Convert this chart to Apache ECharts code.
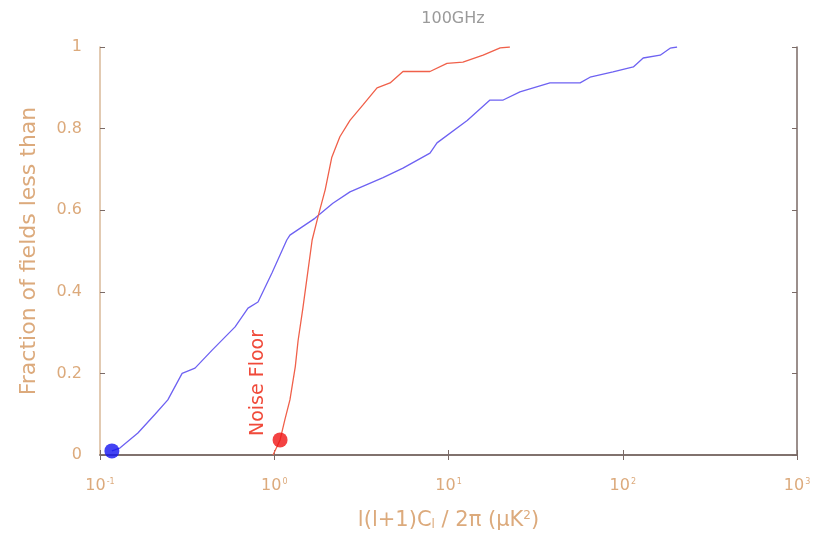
<!DOCTYPE html>
<html>
<head>
<meta charset="utf-8">
<script src="https://cdn.jsdelivr.net/npm/echarts@6/dist/echarts.min.js"></script>
<style>html,body{margin:0;padding:0;background:#fff}#c{width:831px;height:539px}</style>
</head>
<body>
<div id="c"></div>
<script>
// ---- data ----
const titleText = '100GHz';
const xTickExponents = ['-1', '0', '1', '2', '3'];
const yTicks = [0, 0.2, 0.4, 0.6, 0.8, 1];

const blueX = [0.117, 0.130, 0.165, 0.207, 0.245, 0.296, 0.351, 0.440, 0.596, 0.707, 0.807, 0.970, 1.18, 1.23, 1.71, 2.17, 2.72, 4.21, 5.48, 7.83, 8.59, 12.8, 17.3, 20.6, 25.7, 38.2, 56.9, 64.9, 87.9, 115, 131, 164, 187, 205];
const blueY = [0.01, 0.017, 0.054, 0.10, 0.135, 0.20, 0.213, 0.257, 0.314, 0.36, 0.375, 0.446, 0.527, 0.539, 0.58, 0.617, 0.645, 0.68, 0.703, 0.74, 0.765, 0.82, 0.87, 0.87, 0.89, 0.912, 0.912, 0.926, 0.939, 0.951, 0.973, 0.98, 0.997, 1.0];

const redX = [0.984, 1.08, 1.15, 1.23, 1.32, 1.37, 1.46, 1.65, 1.78, 1.96, 2.14, 2.38, 2.72, 3.23, 3.89, 4.62, 5.48, 7.83, 9.80, 12.1, 15.8, 19.8, 22.5];
const redY = [0, 0.037, 0.086, 0.135, 0.216, 0.28, 0.36, 0.527, 0.583, 0.65, 0.73, 0.78, 0.82, 0.858, 0.90, 0.912, 0.94, 0.94, 0.96, 0.963, 0.98, 0.998, 1.0];

const blueDot = [0.117, 0.01];
const redDot = [1.08, 0.037];
const noiseLabel = 'Noise Floor';

// ---- chart ----
const tan = '#dcaa7c';
const dark = '#7a6a66';
const font = 'DejaVu Sans, Liberation Sans, sans-serif';
const zip = (xs, ys) => xs.map((x, i) => [x, ys[i]]);

const chart = echarts.init(document.getElementById('c'));
chart.setOption({
  animation: false,
  backgroundColor: '#fff',
  title: {
    text: titleText, left: 448, top: 6, textAlign: 'center',
    textStyle: { color: '#9a9a9a', fontSize: 16, fontWeight: 'normal', fontFamily: font }
  },
  grid: { left: 100, right: 34, top: 47, bottom: 84 },
  xAxis: [{
    type: 'log', logBase: 10, min: 0.1, max: 1000,
    axisLine: { show: true, onZero: false, lineStyle: { color: dark, width: 1.5 } },
    axisTick: { show: true, inside: true, length: 5, lineStyle: { color: dark } },
    minorTick: { show: false },
    splitLine: { show: false },
    axisLabel: {
      margin: 23,
      formatter: function (v) {
        const e = Math.round(Math.log10(v));
        return '{b|10}{s|' + xTickExponents[e + 1] + '}';
      },
      rich: {
        b: { fontSize: 16, color: tan, fontFamily: font },
        s: { fontSize: 8, color: tan, fontFamily: font, verticalAlign: 'top', padding: [0, 0, 6, 1] }
      }
    },
    name: '{a|l(l+1)C}{sub|l}{a| / 2π (μK}{sup|2}{a|)}',
    nameLocation: 'middle', nameGap: 55,
    nameTextStyle: {
      rich: {
        a: { fontSize: 21, color: tan, fontFamily: font },
        sub: { fontSize: 12, color: tan, fontFamily: font, verticalAlign: 'bottom', padding: [8, 0, 0, 0] },
        sup: { fontSize: 12, color: tan, fontFamily: font, verticalAlign: 'top', padding: [0, 0, 8, 0] }
      }
    }
  }, {
    type: 'log', logBase: 10, min: 0.1, max: 1000, position: 'top',
    axisLine: { show: true, lineStyle: { color: dark, width: 1.5 } },
    axisTick: { show: true, inside: true, length: 5, lineStyle: { color: dark } },
    axisLabel: { show: false }, splitLine: { show: false }
  }],
  yAxis: [{
    type: 'value', min: 0, max: 1, interval: 0.2,
    axisLine: { show: true, onZero: false, lineStyle: { color: '#d8b898', width: 1.5 } },
    axisTick: { show: true, inside: true, length: 5, lineStyle: { color: dark } },
    splitLine: { show: false },
    axisLabel: {
      margin: 18, color: tan, fontSize: 16, fontFamily: font,
      formatter: v => String(yTicks.find(t => Math.abs(t - v) < 1e-6) ?? v)
    },
    name: 'Fraction of fields less than',
    nameLocation: 'middle', nameGap: 60, nameRotate: 90,
    nameTextStyle: { color: tan, fontSize: 22, fontFamily: font }
  }, {
    type: 'value', min: 0, max: 1, interval: 0.2, position: 'right',
    axisLine: { show: true, lineStyle: { color: dark, width: 1.5 } },
    axisTick: { show: true, inside: true, length: 5, lineStyle: { color: dark } },
    axisLabel: { show: false }, splitLine: { show: false }
  }],
  graphic: [{
    type: 'text', x: 258, y: 436, rotation: Math.PI / 2,
    style: {
      text: noiseLabel, fill: '#f04a3a', fontSize: 19, fontFamily: font,
      textAlign: 'left', textVerticalAlign: 'middle'
    }, z: 10
  }],
  series: [
    {
      type: 'line', data: zip(blueX, blueY), showSymbol: false, symbol: 'none',
      lineStyle: { color: '#6e62f2', width: 1.3 }, z: 3
    },
    {
      type: 'line', data: zip(redX, redY), showSymbol: false, symbol: 'none',
      lineStyle: { color: '#f0604a', width: 1.3 }, z: 3
    },
    {
      type: 'scatter', data: [blueDot], symbolSize: 15,
      itemStyle: { color: '#1414f0' }, z: 5
    },
    {
      type: 'scatter', data: [redDot], symbolSize: 15,
      itemStyle: { color: '#f01414' }, z: 5
    }
  ]
});
</script>
</body>
</html>
